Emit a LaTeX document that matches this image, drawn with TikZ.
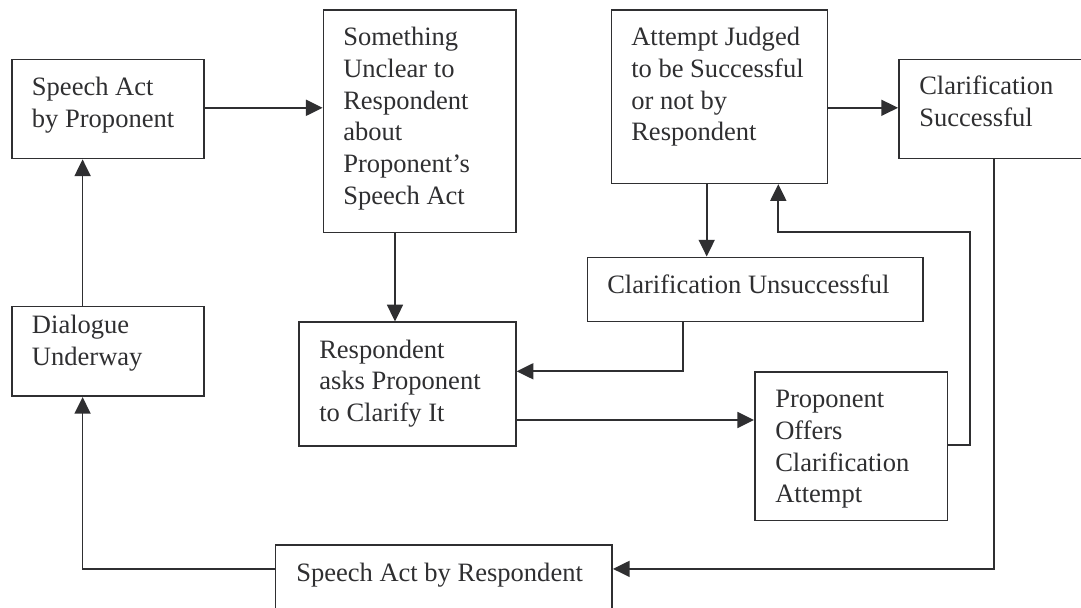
\documentclass[tikz,border=0pt]{standalone}
\usepackage{fontspec}
\setmainfont{Liberation Serif}
\usetikzlibrary{arrows.meta}
\definecolor{ink}{HTML}{2F2F31}
\tikzset{
 box/.style={draw=ink, line width=1.25pt, anchor=north west, inner sep=0pt},
 lbl/.style={anchor=north west, inner sep=0pt, align=left, text=ink, font=\fontsize{19.9}{23.8}\selectfont},
 conn/.style={draw=ink, line width=1.25pt},
 arr/.style={conn, -{Triangle[length=12.5pt,width=12pt]}},
}
\newcommand\mybox[5]{\node[box, minimum width={(#4-#2)*0.75pt}, minimum height={(#5-#3)*0.75pt}] (#1) at (#2,#3) {};}
\newcommand\mylbl[4]{\node[lbl] (#1) at (#2,#3-22.4) {\strut #4};}
\begin{document}
\begin{tikzpicture}[x=0.75pt,y=-0.75pt]
\useasboundingbox (0,0) rectangle (1081,607);
\clip (0,0) rectangle (1081,607);
\fill[white] (0,0) rectangle (1081,607);
% boxes
\mybox{spp}{11}{58.5}{203}{157.7}
\mybox{sth}{322.6}{9}{515}{231.7}
\mybox{att}{610.6}{9}{826.5}{182.5}
\mybox{csu}{898}{58.5}{1095}{157.7}
\mybox{cun}{586.5}{256.5}{922}{320.7}
\mybox{dia}{11}{305.8}{203}{395.4}
\mybox{res}{298}{321.4}{515}{445}
\mybox{poc}{754}{371}{946.7}{519.6}
\mybox{sar}{274.5}{544}{611.3}{625}
% labels
\mylbl{tspp}{31.7}{95.2}{Speech Act\\by Proponent}
\mylbl{tsth}{343}{45.5}{Something\\Unclear to\\Respondent\\about\\Proponent’s\\Speech Act}
\mylbl{tatt}{631}{45.5}{Attempt Judged\\to be Successful\\or not by\\Respondent}
\mylbl{tcsu}{919}{94.9}{Clarification\\Successful}
\mylbl{tcun}{607}{293.6}{Clarification Unsuccessful}
\mylbl{tdia}{31.7}{333.2}{Dialogue\\Underway}
\mylbl{tres}{319}{358}{Respondent\\asks Proponent\\to Clarify It}
\mylbl{tpoc}{775}{407.6}{Proponent\\Offers\\Clarification\\Attempt}
\mylbl{tsar}{296}{581}{Speech Act by Respondent}
% helper coordinates
\coordinate (xa) at (82.6,0);
\coordinate (xb) at (395,0);
\coordinate (xc) at (706.7,0);
\coordinate (xd) at (683,0);
\coordinate (xe) at (969.8,0);
\coordinate (xf) at (778.3,0);
\coordinate (xg) at (993.8,0);
\coordinate (ya) at (0,107.8);
\coordinate (yb) at (0,371.3);
\coordinate (yc) at (0,420);
\coordinate (yd) at (0,445);
\coordinate (ye) at (0,231.7);
\coordinate (yf) at (0,568.9);
% connectors
\draw[arr] (spp.east |- ya) -- (sth.west |- ya);
\draw[arr] (dia.north -| xa) -- (spp.south -| xa);
\draw[arr] (sth.south -| xb) -- (res.north -| xb);
\draw[arr] (att.south -| xc) -- (cun.north -| xc);
\draw[arr] (att.east |- ya) -- (csu.west |- ya);
\draw[arr] (cun.south -| xd) |- (res.east |- yb);
\draw[arr] (res.east |- yc) -- (poc.west |- yc);
\draw[arr] (poc.east |- yd) -| (xe |- ye) -| (att.south -| xf);
\draw[arr] (csu.south -| xg) |- (sar.east |- yf);
\draw[arr] (sar.west |- yf) -| (dia.south -| xa);
\end{tikzpicture}
\end{document}
